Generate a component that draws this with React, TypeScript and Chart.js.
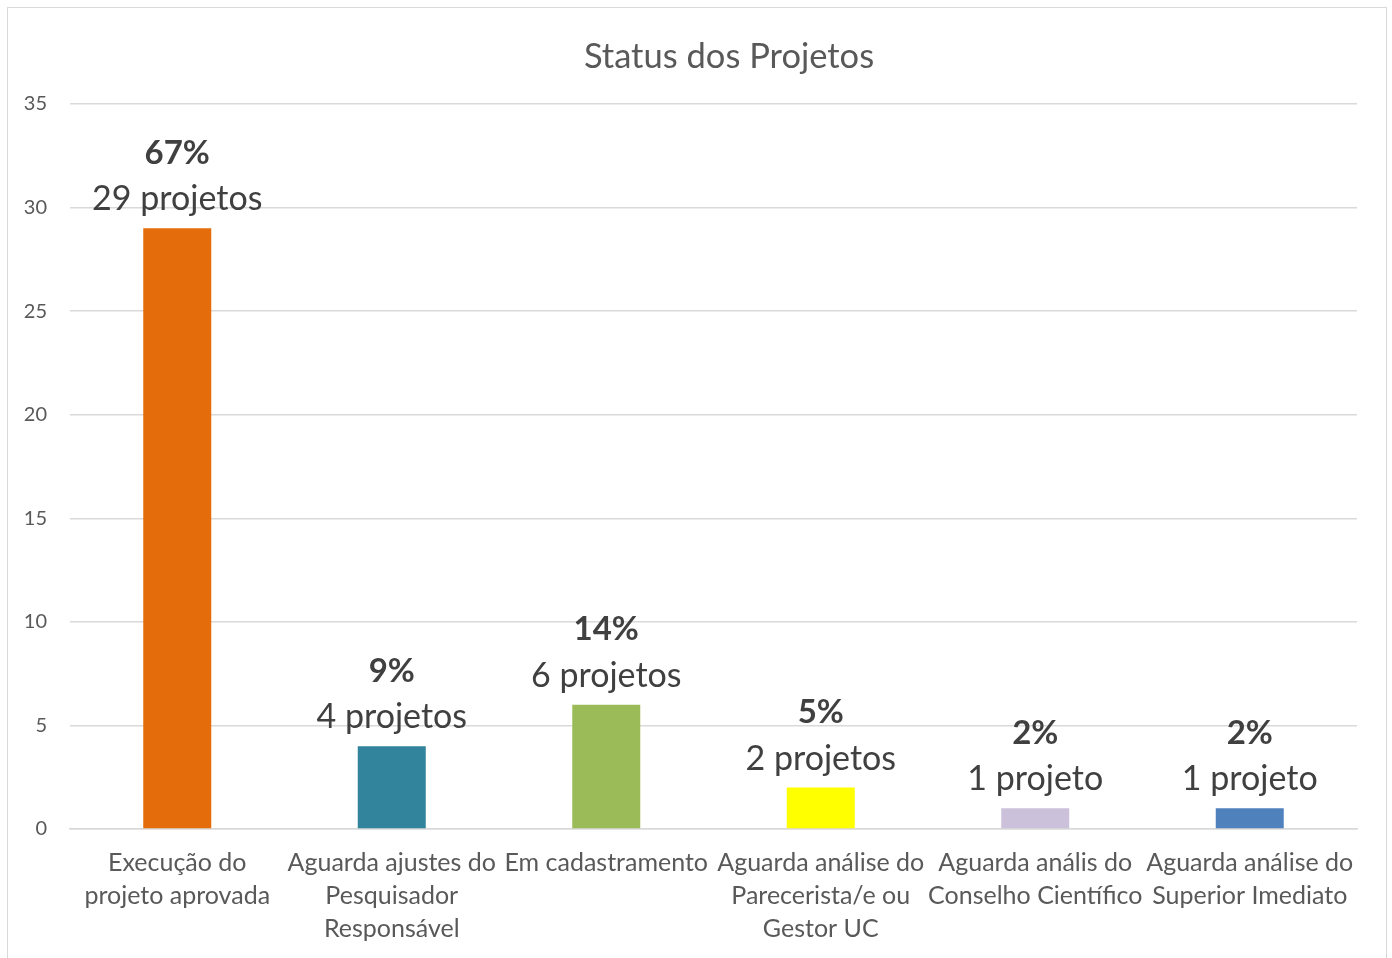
import React, { useEffect, useRef } from "react";
import { Chart, registerables } from "chart.js";

Chart.register(...registerables);

const categories: string[][] = [
  ["Execução do", "projeto aprovada"],
  ["Aguarda ajustes do", "Pesquisador", "Responsável"],
  ["Em cadastramento"],
  ["Aguarda análise do", "Parecerista/e ou", "Gestor UC"],
  ["Aguarda anális do", "Conselho Científico"],
  ["Aguarda análise do", "Superior Imediato"],
];
const projectCounts = [29, 4, 6, 2, 1, 1];
const percentLabels = ["67%", "9%", "14%", "5%", "2%", "2%"];
const countLabels = ["29 projetos", "4 projetos", "6 projetos", "2 projetos", "1 projeto", "1 projeto"];
const barColors = ["#E46C0A", "#31849B", "#9BBB59", "#FFFF00", "#CCC1DA", "#4F81BD"];
const yTicks = [0, 5, 10, 15, 20, 25, 30, 35];

const FONT = "Lato, 'Open Sans', sans-serif";

const labelPlugin = {
  id: "barLabels",
  afterDatasetsDraw(chart: any) {
    const ctx = chart.ctx;
    const meta = chart.getDatasetMeta(0);
    ctx.save();
    ctx.textAlign = "center";
    ctx.textBaseline = "middle";
    ctx.fillStyle = "#404040";
    meta.data.forEach((bar: any, i: number) => {
      ctx.font = `34px ${FONT}`;
      ctx.fillText(countLabels[i], bar.x, bar.y - 29);
      ctx.font = `bold 33px ${FONT}`;
      ctx.fillText(percentLabels[i], bar.x, bar.y - 75);
    });
    // title
    ctx.font = `34.5px ${FONT}`;
    ctx.fillStyle = "#595959";
    ctx.fillText("Status dos Projetos", 729, 57);
    ctx.restore();
  },
};

export default function App() {
  const ref = useRef<HTMLCanvasElement | null>(null);
  useEffect(() => {
    document.body.style.margin = "0";
    const chart = new Chart(ref.current as HTMLCanvasElement, {
      type: "bar",
      data: {
        labels: categories,
        datasets: [
          {
            data: projectCounts,
            backgroundColor: barColors,
            categoryPercentage: 1,
            barPercentage: 0.317,
          },
        ],
      },
      options: {
        responsive: false,
        animation: false,
        devicePixelRatio: 1,
        layout: { padding: { top: 104, left: 8, right: 35, bottom: 10 } },
        plugins: { legend: { display: false }, tooltip: { enabled: false }, title: { display: false } },
        scales: {
          x: {
            grid: { display: false, drawTicks: false },
            border: { color: "#D9D9D9", width: 1.5 },
            ticks: {
              color: "#595959",
              font: { family: FONT, size: 25, lineHeight: 1.32 },
              padding: 17,
              autoSkip: false,
              maxRotation: 0,
              minRotation: 0,
            },
            afterFit: (s: any) => {
              s.height = 119;
            },
          },
          y: {
            min: 0,
            max: 35,
            afterBuildTicks: (s: any) => {
              s.ticks = yTicks.map((v) => ({ value: v }));
            },
            grid: { color: "#D9D9D9", lineWidth: 1.5, drawTicks: false },
            border: { display: false },
            ticks: {
              color: "#595959",
              font: { family: FONT, size: 20 },
              padding: 23,
            },
            afterFit: (s: any) => {
              s.width = 62;
            },
          },
        },
      },
      plugins: [labelPlugin],
    });
    return () => chart.destroy();
  }, []);
  return (
    <div style={{ position: "relative", width: 1392, height: 958, overflow: "hidden", background: "#fff" }}>
      <div
        style={{
          position: "absolute",
          left: 7,
          top: 7,
          width: 1378,
          height: 960,
          border: "1.5px solid #D9D9D9",
        }}
      />
      <canvas ref={ref} width={1392} height={958} style={{ position: "absolute", left: 0, top: 0 }} />
    </div>
  );
}
